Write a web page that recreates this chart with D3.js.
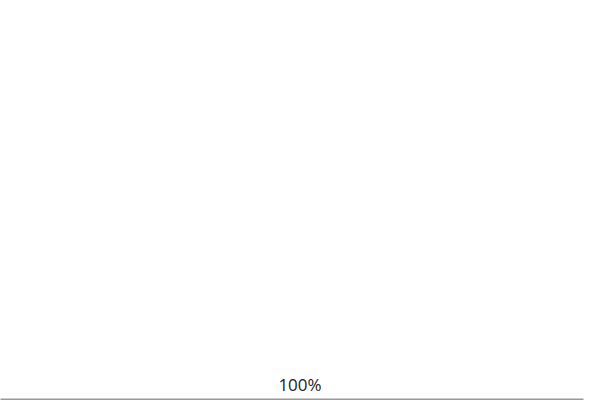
<!DOCTYPE html>
<html>
<head>
<meta charset="utf-8">
<script src="https://cdn.jsdelivr.net/npm/d3@7"></script>
<style>
  html, body { margin: 0; padding: 0; background: #fff; }
  svg { display: block; }
</style>
</head>
<body>
<div id="chart"></div>
<script>
const categories = ["Total"];
const values = [100];
const labels = ["100%"];

const width = 600, height = 400;
const margin = { top: 0, right: 17, bottom: 1, left: 0 };

const svg = d3.select("#chart").append("svg")
  .attr("width", width).attr("height", height);

const x = d3.scaleLinear().domain([0, 100]).range([margin.left, width - margin.right]);
const y = d3.scaleBand().domain(categories).range([margin.top, height - margin.bottom]).padding(0);

svg.selectAll("rect.bar").data(values).join("rect")
  .attr("class", "bar")
  .attr("x", x(0))
  .attr("y", (d, i) => y(categories[i]))
  .attr("width", d => x(d) - x(0))
  .attr("height", y.bandwidth())
  .attr("fill", "#ffffff");

const axis = svg.append("g")
  .attr("transform", `translate(0,${height - margin.bottom})`)
  .call(d3.axisBottom(x).ticks(0).tickSizeOuter(0));
axis.select(".domain").attr("stroke", "#999").attr("stroke-width", 2);

svg.selectAll("text.lbl").data(labels).join("text")
  .attr("class", "lbl")
  .attr("x", width / 2)
  .attr("y", 391)
  .attr("text-anchor", "middle")
  .attr("font-family", "'Open Sans', 'Noto Sans', sans-serif")
  .attr("font-size", 17)
  .attr("fill", "#222")
  .text(d => d);
</script>
</body>
</html>
